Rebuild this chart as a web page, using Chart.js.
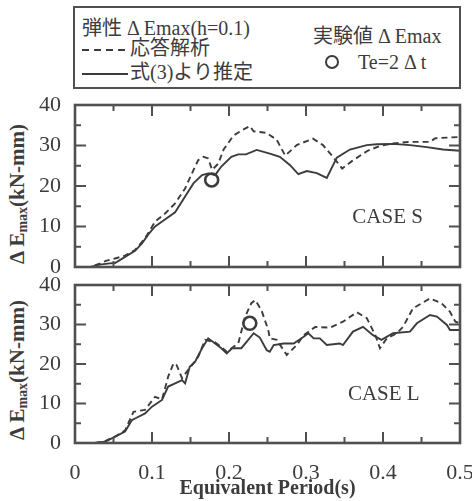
<!DOCTYPE html>
<html>
<head>
<meta charset="utf-8">
<title>ΔEmax - Equivalent Period</title>
<script src="https://cdn.jsdelivr.net/npm/chart.js@4.4.1/dist/chart.umd.min.js"></script>
<style>
  body { margin:0; width:472px; height:501px; position:relative; overflow:hidden; background:#fff;
         font-family:"Liberation Serif","Times New Roman","Noto Sans CJK JP",serif; color:#3c3c3c; }
  canvas { position:absolute; left:0; }
  #legendBox { position:absolute; left:73px; top:6px; width:388px; height:83px; box-sizing:border-box;
               border:2.5px solid #505050; }
  .lg { position:absolute; white-space:nowrap; font-size:20px; line-height:24px; }
  .sample { display:inline-block; width:46px; height:2px; vertical-align:middle; margin-right:2px; }
  .dash { background:repeating-linear-gradient(to right,#3c3c3c 0 7px,transparent 7px 12px); }
  .solid { background:#3c3c3c; }
  .mark { position:absolute; width:14px; height:14px; box-sizing:border-box; border:2.5px solid #3c3c3c; border-radius:50%; }
  .ytitle { position:absolute; white-space:nowrap; font-weight:bold; font-size:21px;
            transform:translate(-50%,-50%) rotate(-90deg); }
  .ytitle sub { font-size:14px; vertical-align:-3px; }
</style>
</head>
<body>
<div id="legendBox"></div>
<div class="lg" style="left:82px;top:16px">弾性 Δ Emax(h=0.1)</div>
<div class="lg" style="left:82px;top:36px"><span class="sample dash"></span>応答解析</div>
<div class="lg" style="left:82px;top:60px"><span class="sample solid"></span>式(3)より推定</div>
<div class="lg" style="left:313px;top:24px">実験値 Δ Emax</div>
<div class="mark" style="left:325px;top:55px"></div>
<div class="lg" style="left:358px;top:50px">Te=2 Δ t</div>

<div class="ytitle" style="left:18px;top:194px">Δ E<sub>max</sub>(kN-mm)</div>
<div class="ytitle" style="left:18px;top:370px">Δ E<sub>max</sub>(kN-mm)</div>

<canvas id="chartS" width="472" height="185" style="top:95px"></canvas>
<canvas id="chartL" width="472" height="229" style="top:272px"></canvas>

<script>
// CASE S : 応答解析 (dashed)
var periodS_resp = [0, 0.02, 0.032, 0.04, 0.052, 0.065, 0.078, 0.091, 0.104, 0.117, 0.13, 0.143, 0.154, 0.16, 0.167, 0.173, 0.178, 0.186, 0.193, 0.206, 0.219, 0.227, 0.232, 0.249, 0.262, 0.273, 0.288, 0.309, 0.322, 0.335, 0.347, 0.36, 0.38, 0.396, 0.413, 0.435, 0.461, 0.468, 0.5];
var dEmaxS_resp  = [0, 0, 0.8, 1.5, 2.1, 2.8, 4.2, 7.1, 11.2, 13.2, 15.7, 19.4, 24.0, 26.4, 27.2, 26.8, 24.0, 25.5, 29.0, 32.5, 34.0, 34.8, 33.5, 33.1, 31.4, 27.5, 30.1, 31.7, 30.1, 27.2, 24.3, 26.2, 28.7, 29.9, 30.5, 30.9, 30.9, 31.8, 32.1];
// CASE S : 式(3)より推定 (solid)
var periodS_est = [0, 0.02, 0.032, 0.045, 0.052, 0.065, 0.078, 0.087, 0.095, 0.104, 0.115, 0.13, 0.143, 0.154, 0.165, 0.173, 0.182, 0.19, 0.203, 0.212, 0.222, 0.236, 0.253, 0.266, 0.279, 0.29, 0.301, 0.314, 0.327, 0.34, 0.357, 0.379, 0.392, 0.413, 0.435, 0.457, 0.478, 0.5];
var dEmaxS_est  = [0, 0, 0.6, 0.9, 1.0, 2.5, 4.0, 5.8, 8.0, 10.0, 11.5, 13.5, 17.4, 20.7, 22.7, 23.1, 22.7, 24.8, 27.2, 27.8, 27.8, 28.9, 28.0, 27.2, 25.2, 22.9, 23.7, 23.2, 22.0, 27.0, 29.0, 30.1, 30.3, 30.4, 30.1, 29.6, 29.0, 28.7];

// CASE L : 応答解析 (dashed)
var periodL_resp = [0, 0.026, 0.039, 0.052, 0.065, 0.076, 0.091, 0.104, 0.113, 0.121, 0.128, 0.132, 0.139, 0.145, 0.152, 0.16, 0.169, 0.182, 0.19, 0.197, 0.212, 0.221, 0.229, 0.234, 0.242, 0.251, 0.253, 0.262, 0.275, 0.288, 0.297, 0.312, 0.331, 0.348, 0.366, 0.379, 0.39, 0.396, 0.405, 0.418, 0.426, 0.439, 0.461, 0.476, 0.487, 0.494, 0.5];
var dEmaxL_resp  = [0, 0, 0.5, 1.6, 3.2, 7.9, 8.4, 11.7, 11.0, 16.8, 20.2, 19.7, 16.4, 18.0, 19.7, 21.8, 26.1, 25.5, 24.3, 23.1, 25.2, 32.0, 35.4, 36.2, 33.7, 28.6, 26.5, 26.1, 22.3, 24.8, 27.3, 29.4, 29.2, 30.7, 33.1, 31.6, 27.3, 24.0, 26.5, 27.8, 29.4, 34.1, 36.6, 35.4, 33.2, 30.7, 30.3];
// CASE L : 式(3)より推定 (solid)
var periodL_est = [0, 0.026, 0.039, 0.052, 0.065, 0.074, 0.078, 0.091, 0.1, 0.113, 0.121, 0.13, 0.139, 0.143, 0.149, 0.156, 0.165, 0.173, 0.182, 0.19, 0.197, 0.204, 0.216, 0.225, 0.232, 0.24, 0.249, 0.253, 0.258, 0.271, 0.284, 0.297, 0.303, 0.31, 0.318, 0.327, 0.344, 0.348, 0.361, 0.374, 0.387, 0.398, 0.413, 0.435, 0.444, 0.461, 0.47, 0.483, 0.487, 0.5];
var dEmaxL_est  = [0, 0, 0.3, 1.6, 2.9, 5.8, 6.2, 7.5, 9.2, 10.9, 14.3, 15.1, 15.9, 15.1, 19.3, 20.6, 24.0, 26.5, 25.2, 24.0, 22.7, 24.0, 24.0, 26.1, 27.8, 26.7, 23.5, 23.1, 24.8, 25.2, 25.2, 26.9, 27.8, 26.5, 26.5, 24.8, 25.2, 24.8, 28.2, 29.4, 27.3, 26.1, 27.8, 28.2, 30.3, 32.4, 32.0, 29.9, 28.6, 28.6];

// 実験値 ΔEmax (Te = 2Δt)
var testPeriod = [0.1775, 0.227];
var testDEmax  = [21.5, 30.3];

var xTickLabels = ['0', '0.1', '0.2', '0.3', '0.4', '0.5'];
var caseNames = ['CASE S', 'CASE L'];

var ink = '#3c3c3c';
var frameColor = '#505050';
var serif = '"Liberation Serif", "Times New Roman", serif';

function pts(xs, ys) {
  return xs.map(function (x, i) { return { x: x, y: ys[i] }; });
}

// frame, inward ticks on all four sides, and the case label
var frameTicks = {
  id: 'frameTicks',
  afterDatasetsDraw: function (chart, args, opts) {
    var ctx = chart.ctx, a = chart.chartArea;
    var xs = chart.scales.x, ys = chart.scales.y;
    ctx.save();
    ctx.strokeStyle = frameColor;
    ctx.lineWidth = 2;
    ctx.beginPath();
    for (var i = 1; i < 10; i++) {
      var px = xs.getPixelForValue(i * 0.05);
      var len = (i % 2 === 0) ? 11 : 6;
      ctx.moveTo(px, a.bottom); ctx.lineTo(px, a.bottom - len);
      ctx.moveTo(px, a.top); ctx.lineTo(px, a.top + len);
    }
    for (var j = 1; j < 8; j++) {
      var py = ys.getPixelForValue(j * 5);
      var len2 = (j % 2 === 0) ? 11 : 6;
      ctx.moveTo(a.left, py); ctx.lineTo(a.left + len2, py);
      ctx.moveTo(a.right, py); ctx.lineTo(a.right - len2, py);
    }
    ctx.stroke();
    ctx.lineWidth = 2.6;
    ctx.strokeRect(a.left, a.top, a.right - a.left, a.bottom - a.top);

    ctx.fillStyle = ink;
    ctx.font = '21px ' + serif;
    ctx.textAlign = 'center';
    ctx.textBaseline = 'middle';
    ctx.fillText(opts.label, xs.getPixelForValue(opts.at[0]), ys.getPixelForValue(opts.at[1]));
    ctx.restore();
  }
};

function makeChart(id, resp, est, test, label, labelAt, bottomAxis, xHeight, padTop) {
  return new Chart(document.getElementById(id), {
    type: 'line',
    data: {
      datasets: [
        { data: [test], showLine: false, pointRadius: 6.5, pointBorderWidth: 2.6,
          pointBorderColor: ink, pointBackgroundColor: 'rgba(0,0,0,0)' },
        { data: resp, borderColor: ink, borderWidth: 1.9, borderDash: [6, 4], pointRadius: 0, tension: 0 },
        { data: est, borderColor: ink, borderWidth: 1.9, pointRadius: 0, tension: 0 }
      ]
    },
    options: {
      responsive: false,
      animation: false,
      events: [],
      layout: { padding: { top: padTop, right: 12, left: 0, bottom: 0 } },
      plugins: {
        legend: { display: false },
        tooltip: { enabled: false },
        frameTicks: { label: label, at: labelAt }
      },
      scales: {
        x: {
          type: 'linear', min: 0, max: 0.5,
          grid: { display: false }, border: { display: false },
          ticks: {
            display: bottomAxis, stepSize: 0.1, padding: 9, maxRotation: 0,
            color: ink, font: { family: serif, size: 22 },
            callback: function (v) { return xTickLabels[Math.round(v * 10)]; }
          },
          title: {
            display: bottomAxis, text: 'Equivalent Period(s)', color: ink,
            font: { family: serif, size: 20, weight: 'bold' }, padding: 0
          },
          afterFit: function (s) {
            s.height = xHeight;
            s.paddingLeft = 0; s.paddingRight = 0; s.paddingTop = 0; s.paddingBottom = 0;
          }
        },
        y: {
          min: 0, max: 40,
          grid: { display: false }, border: { display: false },
          ticks: { stepSize: 10, padding: 6, color: ink, font: { family: serif, size: 22 } },
          afterFit: function (s) {
            s.width = 75;
            s.paddingLeft = 0; s.paddingRight = 0; s.paddingTop = 0; s.paddingBottom = 0;
          }
        }
      }
    },
    plugins: [frameTicks]
  });
}

makeChart('chartS', pts(periodS_resp, dEmaxS_resp), pts(periodS_est, dEmaxS_est),
  { x: testPeriod[0], y: testDEmax[0] }, caseNames[0], [0.406, 12.3], false, 13, 10);
makeChart('chartL', pts(periodL_resp, dEmaxL_resp), pts(periodL_est, dEmaxL_est),
  { x: testPeriod[1], y: testDEmax[1] }, caseNames[1], [0.401, 12.2], true, 58, 13);
</script>
</body>
</html>
